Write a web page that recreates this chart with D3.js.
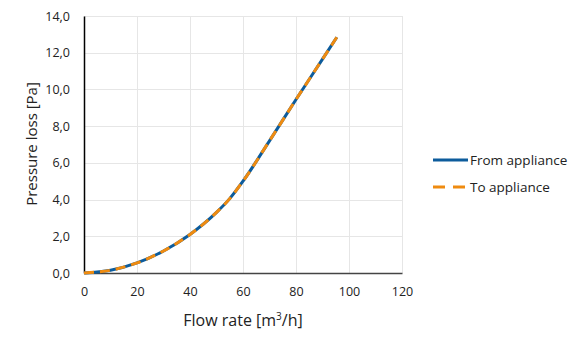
<!DOCTYPE html>
<html>
<head>
<meta charset="utf-8">
<script src="https://cdn.jsdelivr.net/npm/d3@7"></script>
<style>
  body { margin: 0; background: #fff; }
  text { font-family: "Open Sans", "Noto Sans", sans-serif; fill: #222; }
</style>
</head>
<body>
<div id="chart"></div>
<script>
// flow rate [m3/h]
var flow = [0, 10, 20, 30, 40, 50, 55, 60, 70, 80, 90, 95.4];
// pressure loss [Pa]
var fromAppliance = [0, 0.15, 0.55, 1.2, 2.1, 3.3, 4.05, 5.0, 7.2, 9.45, 11.65, 12.84];
var toAppliance   = [0, 0.15, 0.55, 1.2, 2.1, 3.3, 4.05, 5.0, 7.2, 9.45, 11.65, 12.84];
var xTicks = [0, 20, 40, 60, 80, 100, 120];
var yTicks = [0, 2, 4, 6, 8, 10, 12, 14];
var seriesNames = ["From appliance", "To appliance"];

var margin = {top: 16, right: 178, bottom: 74, left: 84},
    width = 580 - margin.left - margin.right,
    height = 347 - margin.top - margin.bottom;

var x = d3.scaleLinear().domain([0, 120]).range([0, width]);
var y = d3.scaleLinear().domain([0, 14]).range([height, 0]);

var svg = d3.select("#chart").append("svg")
    .attr("width", 580)
    .attr("height", 347)
  .append("g")
    .attr("transform", "translate(" + margin.left + "," + margin.top + ")");

// gridlines
svg.append("g").selectAll("line.gy")
    .data(yTicks)
  .enter().append("line")
    .attr("x1", 0).attr("x2", width)
    .attr("y1", function(d) { return Math.round(y(d)) + 0.5; })
    .attr("y2", function(d) { return Math.round(y(d)) + 0.5; })
    .attr("stroke", "#e6e6e6");
svg.append("g").selectAll("line.gx")
    .data(xTicks)
  .enter().append("line")
    .attr("y1", 0).attr("y2", height)
    .attr("x1", function(d) { return Math.round(x(d)) + 0.5; })
    .attr("x2", function(d) { return Math.round(x(d)) + 0.5; })
    .attr("stroke", "#e6e6e6");

// axes
var fmt = function(d) { return d3.format(".1f")(d).replace(".", ","); };
var yAxis = svg.append("g")
    .call(d3.axisLeft(y).tickValues(yTicks).tickFormat(fmt).tickSize(0).tickPadding(14));
yAxis.select(".domain").attr("stroke", "#000").attr("stroke-width", 1.5);
yAxis.selectAll("text").style("font-size", "12.5px").attr("fill", "#222");

var xAxis = svg.append("g")
    .attr("transform", "translate(0," + height + ")")
    .call(d3.axisBottom(x).tickValues(xTicks).tickSize(0).tickPadding(14));
xAxis.select(".domain").attr("stroke", "#444").attr("stroke-width", 1.5);
xAxis.selectAll("text").style("font-size", "12.5px").attr("fill", "#222");

// titles
svg.append("text")
    .attr("transform", "rotate(-90)")
    .attr("x", -128)
    .attr("y", -47)
    .attr("text-anchor", "middle")
    .style("font-size", "15px")
    .text("Pressure loss [Pa]");

var xt = svg.append("text")
    .attr("x", width / 2)
    .attr("y", height + 53)
    .attr("text-anchor", "middle")
    .style("font-size", "16px");
xt.append("tspan").text("Flow rate [m");
xt.append("tspan").attr("dy", -6).style("font-size", "10px").text("3");
xt.append("tspan").attr("dy", 6).text("/h]");

// lines
var line = d3.line()
    .x(function(d) { return x(d[0]); })
    .y(function(d) { return y(d[1]); })
    .curve(d3.curveMonotoneX);

svg.append("path")
    .datum(d3.zip(flow, fromAppliance))
    .attr("fill", "none")
    .attr("stroke", "#0d5c9c")
    .attr("stroke-width", 3)
    .attr("d", line);

svg.append("path")
    .datum(d3.zip(flow, toAppliance))
    .attr("fill", "none")
    .attr("stroke", "#ef8b10")
    .attr("stroke-width", 3)
    .attr("stroke-dasharray", "10,6")
    .attr("d", line);

// legend
var legend = svg.append("g")
    .attr("transform", "translate(" + (width + 31) + ",0)");
var colors = ["#0d5c9c", "#ef8b10"];
var dashes = [null, "12,8"];
seriesNames.forEach(function(name, i) {
  var ly = 144 + i * 27;
  legend.append("line")
      .attr("x1", 0).attr("x2", i ? 32 : 35)
      .attr("y1", ly).attr("y2", ly)
      .attr("stroke", colors[i])
      .attr("stroke-width", 3)
      .attr("stroke-dasharray", dashes[i]);
  legend.append("text")
      .attr("x", 37)
      .attr("y", ly + 5)
      .style("font-size", "13.5px")
      .text(name);
});
</script>
</body>
</html>
